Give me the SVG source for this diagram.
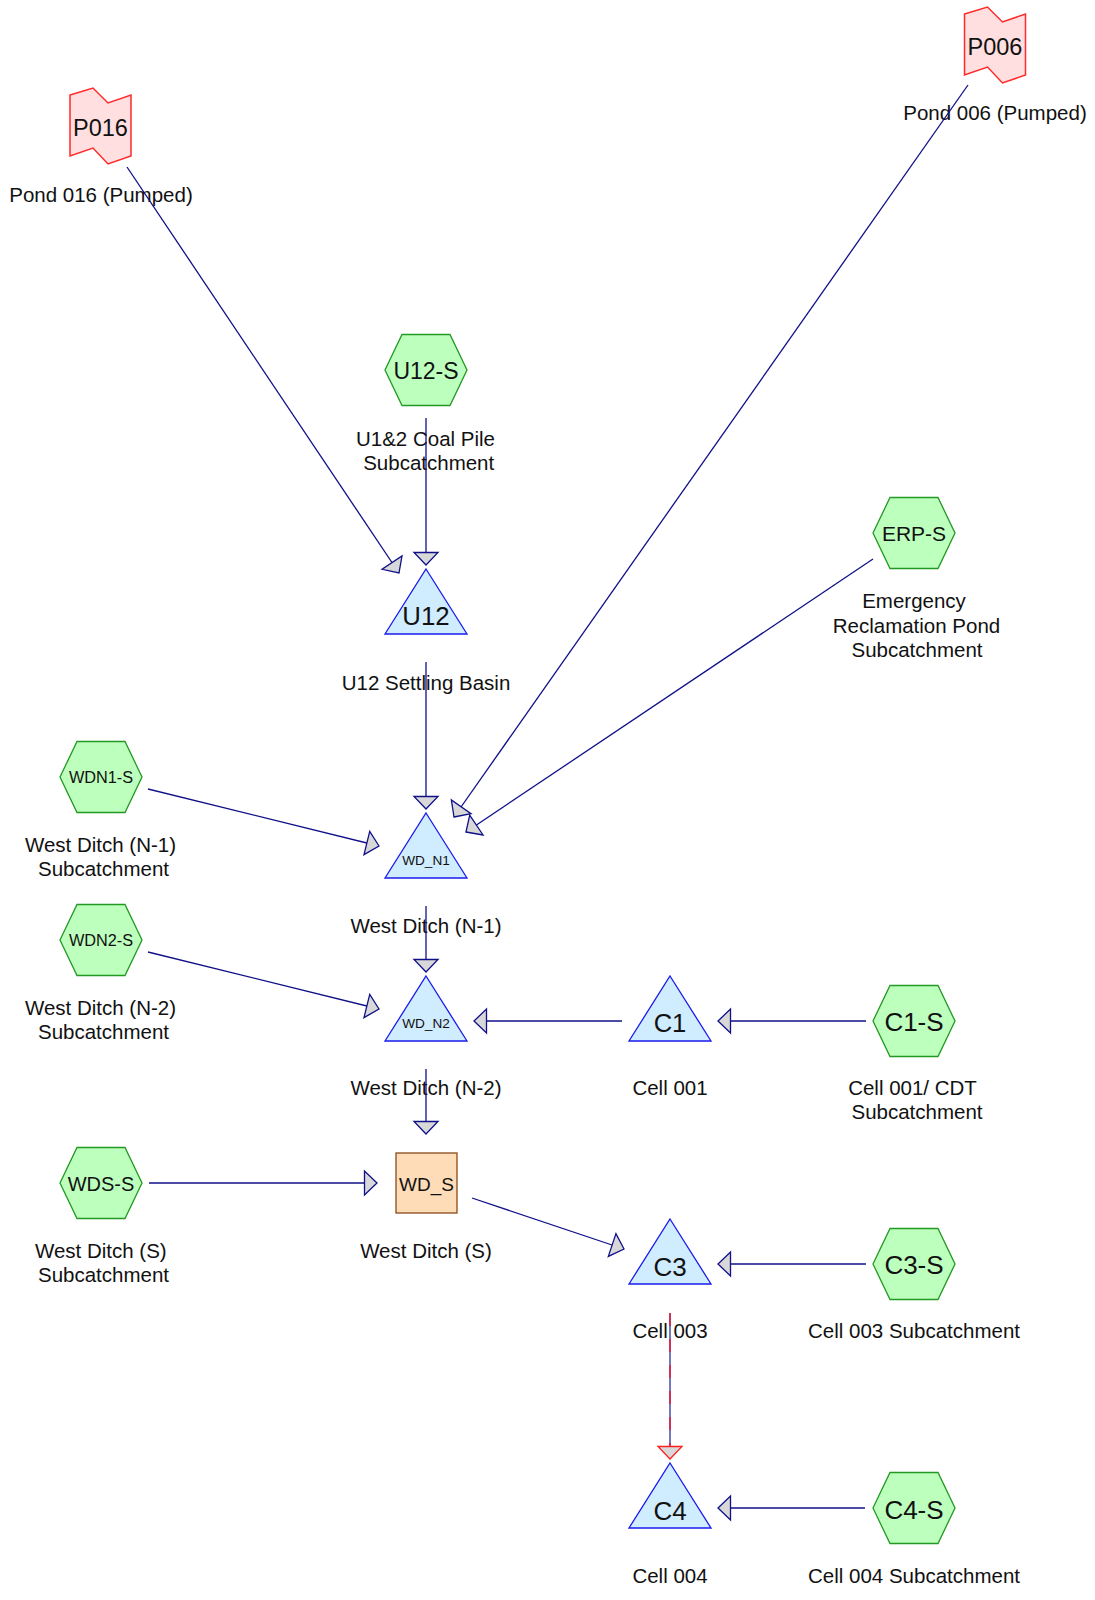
<svg xmlns="http://www.w3.org/2000/svg" width="1095" height="1600" viewBox="0 0 1095 1600">
<style>
text{font-family:"Liberation Sans",Arial,sans-serif;fill:#111;text-anchor:middle}
.lbl{font-size:20.5px}
.hex{fill:#bdffbd;stroke:#229922;stroke-width:1.3}
.tri{fill:#d0ecff;stroke:#1a1aee;stroke-width:1.3}
.pond{fill:#ffdfdf;stroke:#ff2a2a;stroke-width:1.5}
.box{fill:#ffdcb8;stroke:#8b4a1a;stroke-width:1.3}
.con{stroke:#101088;stroke-width:1.3;fill:none;marker-end:url(#ah)}
</style>
<defs>
<path id="hexp" d="M-41,0 L-24,-35.5 L24,-35.5 L41,0 L24,35.5 L-24,35.5 Z"/>
<path id="trip" d="M0,-45 L41,20 L-41,20 Z"/>
<path id="pondp" d="M-30.5,-30.5 L-7.5,-37.5 L7.5,-22.5 L30.5,-30.5 L30.5,30.5 L7.5,38.5 L-7.5,22.5 L-30.5,30.5 Z"/>
<marker id="ah" markerUnits="userSpaceOnUse" viewBox="-14 -13 16 26" markerWidth="16" markerHeight="26" refX="0" refY="0" orient="auto" overflow="visible">
<path d="M0,0 L-12.5,-12 L-12.5,12 Z" fill="#d8d8d8" stroke="#101088" stroke-width="1.3"/>
</marker>
<marker id="ahr" markerUnits="userSpaceOnUse" viewBox="-14 -13 16 26" markerWidth="16" markerHeight="26" refX="0" refY="0" orient="auto" overflow="visible">
<path d="M0,0 L-12.5,-12 L-12.5,12 Z" fill="#d8d8d8" stroke="#ff2020" stroke-width="1.3"/>
</marker>
</defs>

<g id="P016"><use href="#pondp" class="pond" transform="translate(100.5,125.5)"/><text x="100.5" y="135.5" font-size="23.5">P016</text><text class="lbl" x="101" y="201.5">Pond 016 (Pumped)</text></g>
<g id="P006"><use href="#pondp" class="pond" transform="translate(995,44.5)"/><text x="995" y="54.5" font-size="23.5">P006</text><text class="lbl" x="995" y="120">Pond 006 (Pumped)</text></g>

<g id="U12-S"><use href="#hexp" class="hex" transform="translate(426,370)"/><text x="426" y="379" font-size="23">U12-S</text><text class="lbl" x="425.5" y="446">U1&amp;2 Coal Pile</text><text class="lbl" x="428.7" y="469.5">Subcatchment</text></g>
<g id="ERP-S"><use href="#hexp" class="hex" transform="translate(914,533)"/><text x="914" y="541" font-size="21">ERP-S</text><text class="lbl" x="914" y="608">Emergency</text><text class="lbl" x="916.5" y="632.5">Reclamation Pond</text><text class="lbl" x="917" y="657">Subcatchment</text></g>
<g id="U12"><use href="#trip" class="tri" transform="translate(426,614)"/><text x="426" y="625" font-size="25.8">U12</text><text class="lbl" x="426" y="690">U12 Settling Basin</text></g>

<g id="WDN1-S"><use href="#hexp" class="hex" transform="translate(101,777)"/><text x="101" y="783" font-size="16.3">WDN1-S</text><text class="lbl" x="100.5" y="852">West Ditch (N-1)</text><text class="lbl" x="103.5" y="875.5">Subcatchment</text></g>
<g id="WD_N1"><use href="#trip" class="tri" transform="translate(426,858)"/><text x="426" y="865" font-size="13.6">WD_N1</text><text class="lbl" x="426" y="932.5">West Ditch (N-1)</text></g>

<g id="WDN2-S"><use href="#hexp" class="hex" transform="translate(101,940)"/><text x="101" y="946" font-size="16.3">WDN2-S</text><text class="lbl" x="100.5" y="1015">West Ditch (N-2)</text><text class="lbl" x="103.5" y="1038.5">Subcatchment</text></g>
<g id="WD_N2"><use href="#trip" class="tri" transform="translate(426,1021)"/><text x="426" y="1028" font-size="13.6">WD_N2</text><text class="lbl" x="426" y="1095">West Ditch (N-2)</text></g>
<g id="C1"><use href="#trip" class="tri" transform="translate(670,1021)"/><text x="670" y="1032" font-size="25.6">C1</text><text class="lbl" x="670" y="1095">Cell 001</text></g>
<g id="C1-S"><use href="#hexp" class="hex" transform="translate(914,1021)"/><text x="914" y="1031" font-size="26">C1-S</text><text class="lbl" x="912.5" y="1095">Cell 001/ CDT</text><text class="lbl" x="917" y="1119">Subcatchment</text></g>

<g id="WDS-S"><use href="#hexp" class="hex" transform="translate(101,1183)"/><text x="101" y="1190.5" font-size="20">WDS-S</text><text class="lbl" x="100.8" y="1258">West Ditch (S)</text><text class="lbl" x="103.5" y="1282">Subcatchment</text></g>
<g id="WD_S"><rect class="box" x="396" y="1153" width="61" height="60"/><text x="426.5" y="1191" font-size="19">WD_S</text><text class="lbl" x="426" y="1258">West Ditch (S)</text></g>

<g id="C3"><use href="#trip" class="tri" transform="translate(670,1264)"/><text x="670" y="1276" font-size="26">C3</text><text class="lbl" x="670" y="1338">Cell 003</text></g>
<g id="C3-S"><use href="#hexp" class="hex" transform="translate(914,1264)"/><text x="914" y="1274" font-size="26">C3-S</text><text class="lbl" x="914" y="1338">Cell 003 Subcatchment</text></g>

<g id="C4"><use href="#trip" class="tri" transform="translate(670,1508)"/><text x="670" y="1520" font-size="26">C4</text><text class="lbl" x="670" y="1583">Cell 004</text></g>
<g id="C4-S"><use href="#hexp" class="hex" transform="translate(914,1508)"/><text x="914" y="1519" font-size="26">C4-S</text><text class="lbl" x="914" y="1583">Cell 004 Subcatchment</text></g>

<g id="connectors">
<line class="con" x1="127" y1="167" x2="399" y2="573"/>
<line class="con" x1="426" y1="418" x2="426" y2="565"/>
<line class="con" x1="426" y1="662" x2="426" y2="809"/>
<line class="con" x1="968" y1="85" x2="454" y2="817"/>
<line class="con" x1="873" y1="559" x2="466" y2="832"/>
<line class="con" x1="148" y1="789" x2="379" y2="846"/>
<line class="con" x1="426" y1="906" x2="426" y2="972"/>
<line class="con" x1="148" y1="952" x2="379" y2="1009"/>
<line class="con" x1="622" y1="1021" x2="474" y2="1021"/>
<line class="con" x1="866" y1="1021" x2="718" y2="1021"/>
<line class="con" x1="426" y1="1069" x2="426" y2="1134"/>
<line class="con" x1="149" y1="1183" x2="377" y2="1183"/>
<line class="con" x1="472" y1="1198" x2="624" y2="1249"/>
<line class="con" x1="866" y1="1264" x2="718" y2="1264"/>
<line stroke="#5555b0" stroke-width="1.6" x1="670" y1="1313" x2="670" y2="1459" marker-end="url(#ahr)"/>
<line stroke="#dd2244" stroke-width="1.6" stroke-dasharray="13 13" x1="670" y1="1313" x2="670" y2="1447"/>
<line class="con" x1="865" y1="1508" x2="718" y2="1508"/>
</g>
</svg>
